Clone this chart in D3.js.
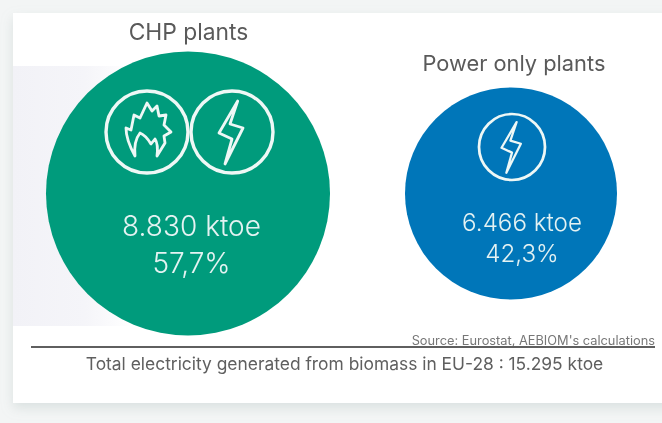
<!DOCTYPE html>
<html><head><meta charset="utf-8">
<script src="https://cdn.jsdelivr.net/npm/d3@7"></script>
<style>html,body{margin:0;padding:0;background:#f3f5f5}svg{display:block}text{font-family:Inter,"Open Sans",sans-serif;font-weight:300}</style>
</head><body><div id="c"></div>
<script>
const categories = ["CHP plants", "Power only plants"];
const ktoe = [8830, 6466];
const valueLabels = ["8.830 ktoe", "6.466 ktoe"];
const shareLabels = ["57,7%", "42,3%"];
const colors = ["#059b7b", "#0576b9"];
const icons = [["flame", "bolt"], ["bolt"]];
const sourceText = "Source: Eurostat, AEBIOM's calculations";
const totalText = "Total electricity generated from biomass in EU-28 : 15.295 ktoe";

const W = 662, H = 423;
const svg = d3.select("#c").append("svg").attr("width", W).attr("height", H);
const defs = svg.append("defs");
const f = defs.append("filter").attr("id", "sh").attr("x", "-5%").attr("y", "-5%").attr("width", "110%").attr("height", "115%");
f.append("feDropShadow").attr("dx", 0).attr("dy", 5).attr("stdDeviation", 6).attr("flood-color", "#9fb0ae").attr("flood-opacity", 0.3);
defs.append("filter").attr("id", "soft").append("feGaussianBlur").attr("stdDeviation", 0.45);

svg.append("rect").attr("width", W).attr("height", H).attr("fill", "#f3f5f5");
svg.append("rect").attr("x", 13).attr("y", 13).attr("width", 680).attr("height", 390).attr("fill", "#fff").attr("filter", "url(#sh)");
const band = defs.append("linearGradient").attr("id", "band");
band.append("stop").attr("offset", "0%").attr("stop-color", "#f2f2f7");
band.append("stop").attr("offset", "60%").attr("stop-color", "#f5f5f9");
band.append("stop").attr("offset", "100%").attr("stop-color", "#ffffff");
svg.append("rect").attr("x", 13).attr("y", 66).attr("width", 120).attr("height", 260).attr("fill", "url(#band)");

const x = d3.scalePoint().domain(categories).range([188, 511]);
const r = d3.scaleLinear().domain([ktoe[1], ktoe[0]]).range([106, 142]);
const cy = 193.5;
const g = svg.append("g").attr("filter", "url(#soft)");

const bolt = "M5.7,-31 L-13,1 L0,7 L-7,32 L11,-4 L-2,-8 Z";
const flame = "M-12,24 C-17,15 -21,6 -21,-4 L-16,-2 L-13,-17 L-7,-14 L0,-29 L5,-21 L10,-26 L12,-16 L19,-17 L17,-7 L24,0 L17,4 L18,11 L10,24 C11,16 10,10 8,7 L4,12 C1,7 -2,3 -7,1 C-11,6 -13,14 -12,24 Z";
const shape = {flame, bolt};

categories.forEach((c, i) => {
  const cx = x(c), R = r(ktoe[i]);
  g.append("circle").attr("cx", cx).attr("cy", cy).attr("r", R).attr("fill", colors[i]);
  g.append("text").attr("x", i ? 514 : 188.5).attr("y", i ? 71 : 40).attr("text-anchor", "middle")
    .attr("font-size", i ? 21.8 : 22.8).attr("fill", "#5a5a5a").style("font-weight", 400).text(c);
  const iconR = i ? 33 : 41;
  const iconY = i ? 147 : 132;
  const centres = i ? [512] : [147, 232];
  icons[i].forEach((name, k) => {
    const ig = g.append("g").attr("transform", `translate(${centres[k]},${iconY}) scale(${iconR / 41})`);
    ig.append("circle").attr("r", 41).attr("fill", "none").attr("stroke", "#eef8f6").attr("stroke-width", 3.4);
    ig.append("path").attr("d", shape[name]).attr("fill", "none").attr("stroke", "#eef8f6").attr("stroke-width", 2.8).attr("stroke-linejoin", "round");
  });
  g.append("text").attr("x", i ? 522 : 191.5).attr("y", i ? 231 : 236).attr("text-anchor", "middle")
    .attr("font-size", i ? 24.2 : 28).attr("fill", "#e4f3f3").text(valueLabels[i]);
  g.append("text").attr("x", i ? 522 : 191.5).attr("y", i ? 262 : 273).attr("text-anchor", "middle")
    .attr("font-size", i ? 24.2 : 28).attr("fill", "#e4f3f3").text(shareLabels[i]);
});

g.append("text").attr("x", 655).attr("y", 345).attr("text-anchor", "end").attr("font-size", 12.8).attr("fill", "#777").style("font-weight", 400).text(sourceText);
g.append("line").attr("x1", 31).attr("x2", 655).attr("y1", 347).attr("y2", 347).attr("stroke", "#5e5e5e").attr("stroke-width", 1.8);
g.append("text").attr("x", 344.5).attr("y", 370).attr("text-anchor", "middle").attr("font-size", 17.4).attr("fill", "#5f5f5f").style("font-weight", 400).text(totalText);
</script></body></html>
